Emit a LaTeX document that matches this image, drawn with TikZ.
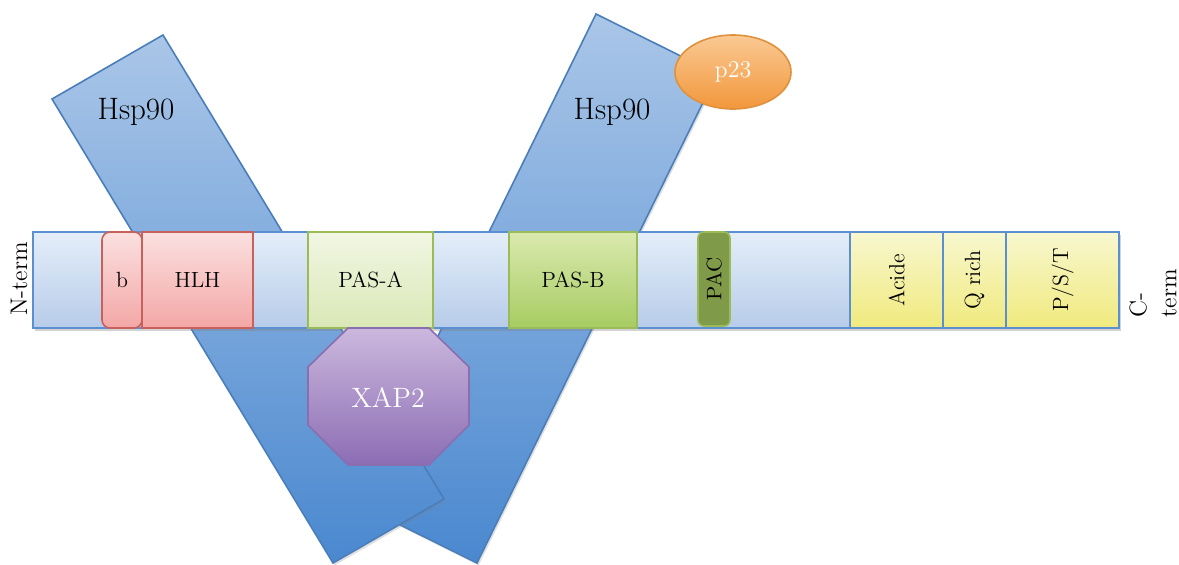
\documentclass[tikz,border=0pt]{standalone}
\usepackage{tikz}
\usetikzlibrary{shapes.geometric,shadows}

\definecolor{barTop}{HTML}{E4EEF9}
\definecolor{barBot}{HTML}{B7CCE9}
\definecolor{barLine}{HTML}{5A8FD2}
\definecolor{hspTop}{HTML}{AAC6E8}
\definecolor{hspBot}{HTML}{4A88CF}
\definecolor{hspLine}{HTML}{4A7EBB}
\definecolor{pinkTop}{HTML}{FBE0E0}
\definecolor{pinkBot}{HTML}{F3A7A6}
\definecolor{pinkLine}{HTML}{C9605C}
\definecolor{pasaTop}{HTML}{F1F6E3}
\definecolor{pasaBot}{HTML}{DAE8B6}
\definecolor{pasbTop}{HTML}{DAE9AE}
\definecolor{pasbBot}{HTML}{A7CC62}
\definecolor{greenLine}{HTML}{9BBB59}
\definecolor{pacFill}{HTML}{7F9B4A}
\definecolor{yelTop}{HTML}{F8F7CF}
\definecolor{yelBot}{HTML}{F0EA7E}
\definecolor{xapTop}{HTML}{CBB8DD}
\definecolor{xapBot}{HTML}{8C6DB4}
\definecolor{xapLine}{HTML}{8A6FB0}
\definecolor{pTop}{HTML}{FAC993}
\definecolor{pBot}{HTML}{F2973B}
\definecolor{pLine}{HTML}{E0913E}

\begin{document}
\begin{tikzpicture}[x=0.5pt,y=-0.5pt,
    dombox/.style={draw=#1, line width=0.8pt, inner sep=0pt, outer sep=0pt,
      minimum height=48pt, font=\fontsize{11}{13}\selectfont},
    pinkbox/.style={dombox=pinkLine, top color=pinkTop, bottom color=pinkBot},
    yelbox/.style={dombox=barLine, top color=yelTop, bottom color=yelBot},
    hsp/.style={draw=hspLine, line width=0.8pt, top color=hspTop, bottom color=hspBot,
      drop shadow={opacity=0.25, shadow xshift=0.8pt, shadow yshift=-1.2pt}},
    hsptext/.style={font=\fontsize{15.5}{18}\selectfont}]
  \useasboundingbox (0,0) rectangle (1179,564);

  % Hsp90 (right, behind)
  \draw[hsp] (596,14) -- (717,74) -- (477,563) -- (356,503) -- cycle;
  \node[hsptext] (hspr) at (612,112) {Hsp90};
  % Hsp90 (left)
  \draw[hsp] (52,99) -- (163,35) -- (444,499) -- (333,563) -- cycle;
  \node[hsptext] (hspl) at (136,112) {Hsp90};

  % p23
  \node[ellipse, draw=pLine, line width=0.8pt, top color=pTop, bottom color=pBot,
    minimum width=58pt, minimum height=37pt, text=white,
    font=\fontsize{12}{14}\selectfont] (p23) at (733,72) {p23};

  % AhR
  \node[draw=barLine, line width=0.8pt, top color=barTop, bottom color=barBot,
    minimum width=543pt, minimum height=48pt, inner sep=0pt, outer sep=0pt,
    drop shadow={opacity=0.35, shadow xshift=0.8pt, shadow yshift=-1.5pt}] (bar) at (576,280) {};
  \node[pinkbox, rounded corners=4pt, minimum width=20pt] (b) at (122,280) {b};
  \node[pinkbox, minimum width=55.5pt] (hlh) at (197.5,280) {HLH};
  \node[dombox=greenLine, top color=pasaTop, bottom color=pasaBot, minimum width=62.5pt] (pasa) at (370.5,280) {PAS-A};
  \node[dombox=greenLine, top color=pasbTop, bottom color=pasbBot, minimum width=64pt] (pasb) at (573,280) {PAS-B};
  \node[dombox=greenLine, fill=pacFill, rounded corners=3pt, minimum width=16pt, minimum height=47pt,
    font=\fontsize{10.5}{12}\selectfont] (pac) at (714,279) {\rotatebox{90}{PAC}};
  \node[yelbox, minimum width=46.5pt] (acide) at (896.5,280) {\rotatebox{90}{Acide}};
  \node[yelbox, minimum width=31.5pt] (qrich) at (974.5,280) {\rotatebox{90}{Q rich}};
  \node[yelbox, minimum width=56.5pt] (pst) at (1062.5,280) {\rotatebox{90}{P/S/T}};

  % ends
  \node[rotate=90, font=\fontsize{12}{14}\selectfont] (nterm) at (19,279) {N-term};
  \node[rotate=90, align=left, font=\fontsize{12}{15}\selectfont] (cterm) at (1153,293) {C-\\term};

  % XAP2
  \draw[draw=xapLine, line width=0.8pt, top color=xapTop, bottom color=xapBot]
    (348,328) -- (429,328) -- (469,367) -- (469,425) -- (429,465) -- (348,465) -- (308,425) -- (308,367) -- cycle;
  \node[text=white, font=\fontsize{14}{16}\selectfont] (xap) at (388,397) {XAP2};
\end{tikzpicture}
\end{document}
